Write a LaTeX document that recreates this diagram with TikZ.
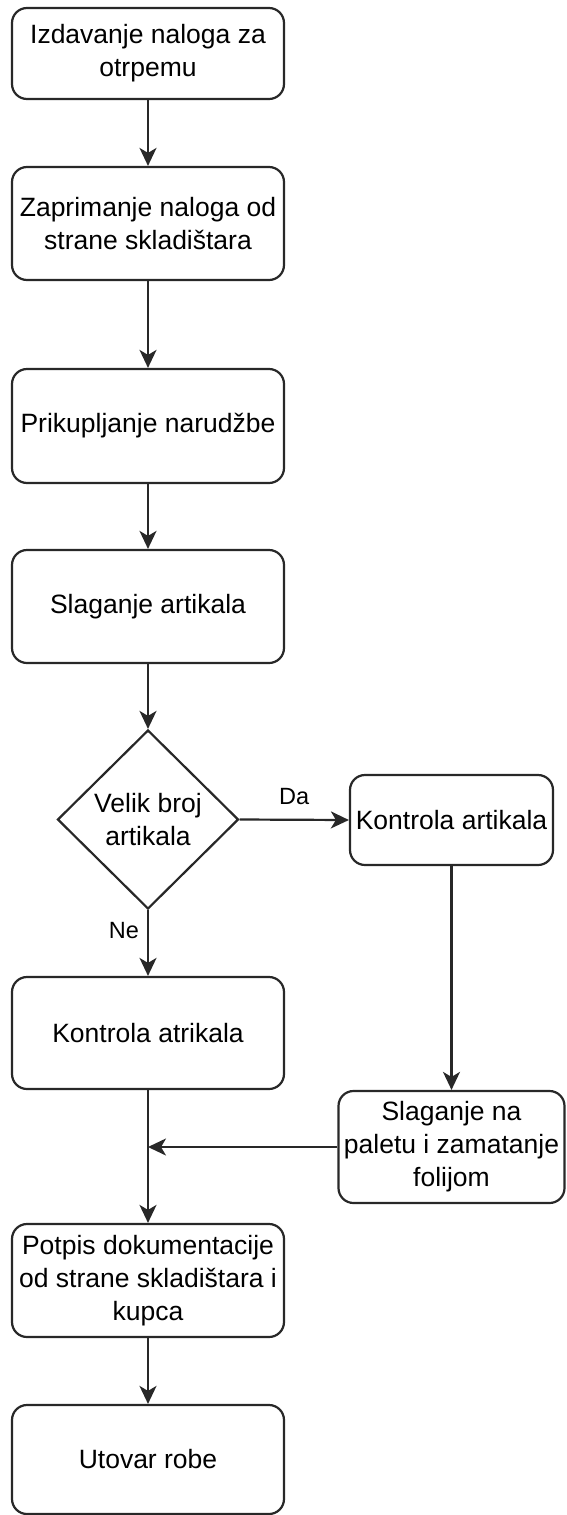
\documentclass[tikz,border=0pt]{standalone}
\usepackage{fontspec}
\setmainfont{Liberation Sans}
\usetikzlibrary{shapes.geometric,arrows.meta}
\definecolor{linec}{RGB}{40,40,40}
\tikzset{
  stepbox/.style={draw=linec, line width=2.2pt, rounded corners=15pt, fill=white,
    align=center, inner sep=0pt, font=\fontsize{26.5}{33}\selectfont},
  decision/.style={draw=linec, line width=2.2pt, diamond, fill=white, aspect=1,
    align=center, inner sep=0pt, font=\fontsize{26.5}{33}\selectfont},
  flow/.style={draw=linec, line width=2.2pt, -{Stealth[length=18pt,width=17pt,inset=5pt]}},
  lbl/.style={font=\fontsize{23.5}{28}\selectfont, inner sep=0pt}
}
\begin{document}
\begin{tikzpicture}[x=1pt,y=-1pt]
\useasboundingbox (0,0) rectangle (566,1515);
\node[stepbox, minimum width=272pt, minimum height=91pt] (b1) at (148,53.5) {Izdavanje naloga za\\otrpemu};
\node[stepbox, minimum width=272pt, minimum height=113pt] (b2) at (148,223.5) {Zaprimanje naloga od\\strane skladištara};
\node[stepbox, minimum width=272pt, minimum height=114pt] (b3) at (148,426) {Prikupljanje narudžbe};
\node[stepbox, minimum width=272pt, minimum height=113pt] (b4) at (148,606.5) {Slaganje artikala};
\node[decision, minimum width=181pt, minimum height=179pt] (d) at (148,819.5) {Velik broj\\artikala};
\node[stepbox, minimum width=203pt, minimum height=90pt] (kr) at (451.5,820) {Kontrola artikala};
\node[stepbox, minimum width=272pt, minimum height=112pt] (kl) at (148,1033) {Kontrola atrikala};
\node[stepbox, minimum width=226pt, minimum height=112pt] (sp) at (451.5,1147) {Slaganje na\\paletu i zamatanje\\folijom};
\node[stepbox, minimum width=272pt, minimum height=113pt] (pd) at (148,1280.5) {Potpis dokumentacije\\od strane skladištara i\\kupca};
\node[stepbox, minimum width=272pt, minimum height=109pt] (ut) at (148,1459.5) {Utovar robe};

\draw[flow] (b1) -- (b2);
\draw[flow] (b2) -- (b3);
\draw[flow] (b3) -- (b4);
\draw[flow] (b4) -- (d);
\draw[flow] (d.east) -- node[lbl, above=14pt] {Da} (kr.west);
\draw[flow] (d.south) -- node[lbl, pos=0.31, anchor=east, xshift=-8pt] {Ne} (kl.north);
\draw[flow] (kr.south) -- (kr.south |- sp.north);
\draw[flow] (kl.south) -- (pd.north);
\coordinate (join) at (kl.south |- sp.west);
\draw[flow] (sp.west) -- (join);
\draw[flow] (pd) -- (ut);
\end{tikzpicture}
\end{document}
